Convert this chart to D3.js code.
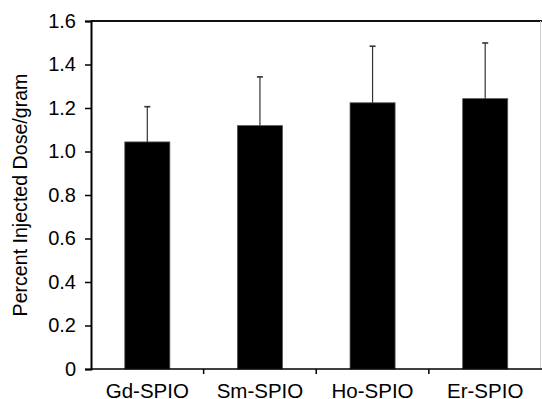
<!DOCTYPE html>
<meta charset="utf-8">
<style>
  body { margin: 0; background: #fff; }
  text { font-family: "Liberation Sans", Arial, sans-serif; fill: #000; }
</style>
<svg width="542" height="399"></svg>
<script src="https://d3js.org/d3.v7.min.js"></script>
<script>
  // Data
  var categories = ["Gd-SPIO", "Sm-SPIO", "Ho-SPIO", "Er-SPIO"];
  var means = [1.044, 1.119, 1.224, 1.243];
  var errors = [0.162, 0.224, 0.260, 0.256];
  var yTicks = [0, 0.2, 0.4, 0.6, 0.8, 1.0, 1.2, 1.4, 1.6];

  var svg = d3.select("svg");
  var plotLeft = 91, plotRight = 541.5, plotTop = 21, plotBottom = 369;

  var x = d3.scaleBand()
    .domain(categories)
    .range([plotLeft, plotRight])
    .paddingInner(0.6)
    .paddingOuter(0.3);

  var y = d3.scaleLinear()
    .domain([0, 1.6])
    .range([plotBottom, plotTop]);

  // frame: top line and faint right border
  svg.append("line")
    .attr("x1", plotLeft).attr("x2", 542)
    .attr("y1", plotTop).attr("y2", plotTop)
    .attr("stroke", "#111").attr("stroke-width", 2);
  svg.append("line")
    .attr("x1", 540.5).attr("x2", 540.5)
    .attr("y1", plotTop).attr("y2", plotBottom)
    .attr("stroke", "#ccc").attr("stroke-width", 1);

  // bars
  svg.selectAll(".bar")
    .data(categories)
    .enter().append("rect")
    .attr("class", "bar")
    .attr("x", function (d) { return x(d); })
    .attr("width", x.bandwidth())
    .attr("y", function (d, i) { return y(means[i]); })
    .attr("height", function (d, i) { return plotBottom - y(means[i]); })
    .attr("fill", "#000")
    .attr("stroke", "#555")
    .attr("stroke-width", 0.8);

  // error bars, upward only
  var err = svg.selectAll(".err")
    .data(categories)
    .enter().append("g")
    .attr("class", "err")
    .attr("stroke", "#333")
    .attr("stroke-width", 1.2);
  err.append("line")
    .attr("x1", function (d) { return x(d) + x.bandwidth() / 2; })
    .attr("x2", function (d) { return x(d) + x.bandwidth() / 2; })
    .attr("y1", function (d, i) { return y(means[i]); })
    .attr("y2", function (d, i) { return y(means[i] + errors[i]); });
  err.append("line")
    .attr("x1", function (d) { return x(d) + x.bandwidth() / 2 - 3; })
    .attr("x2", function (d) { return x(d) + x.bandwidth() / 2 + 3; })
    .attr("y1", function (d, i) { return y(means[i] + errors[i]); })
    .attr("y2", function (d, i) { return y(means[i] + errors[i]); })
    .attr("stroke-width", 1.6);

  // y axis
  var yAxis = svg.append("g")
    .attr("transform", "translate(" + plotLeft + ",0)")
    .call(d3.axisLeft(y)
      .tickValues(yTicks)
      .tickSizeOuter(0)
      .tickSize(6)
      .tickPadding(9)
      .tickFormat(function (d) { return d === 0 ? "0" : d3.format(".1f")(d); }));
  yAxis.select(".domain").attr("stroke", "#000").attr("stroke-width", 2);
  yAxis.selectAll(".tick line").attr("stroke", "#000").attr("stroke-width", 1.5);
  yAxis.selectAll("text").style("font-size", "20px").attr("fill", "#000");

  // x axis with ticks at band boundaries
  var xAxis = svg.append("g")
    .attr("transform", "translate(0," + plotBottom + ")");
  xAxis.append("line")
    .attr("x1", plotLeft).attr("x2", 542)
    .attr("stroke", "#000").attr("stroke-width", 1.5);
  xAxis.selectAll(".xt")
    .data(categories.slice(1))
    .enter().append("line")
    .attr("class", "xt")
    .attr("x1", function (d) { return x(d) - x.step() * x.paddingInner() / 2; })
    .attr("x2", function (d) { return x(d) - x.step() * x.paddingInner() / 2; })
    .attr("y1", 0).attr("y2", 5)
    .attr("stroke", "#000").attr("stroke-width", 1.5);
  xAxis.selectAll(".xl")
    .data(categories)
    .enter().append("text")
    .attr("class", "xl")
    .attr("x", function (d) { return x(d) + x.bandwidth() / 2; })
    .attr("y", 29)
    .attr("text-anchor", "middle")
    .style("font-size", "20.5px")
    .text(function (d) { return d; });

  // y label
  svg.append("text")
    .attr("transform", "translate(27," + 195 + ") rotate(-90)")
    .attr("text-anchor", "middle")
    .style("font-size", "19.6px")
    .text("Percent Injected Dose/gram");
</script>
